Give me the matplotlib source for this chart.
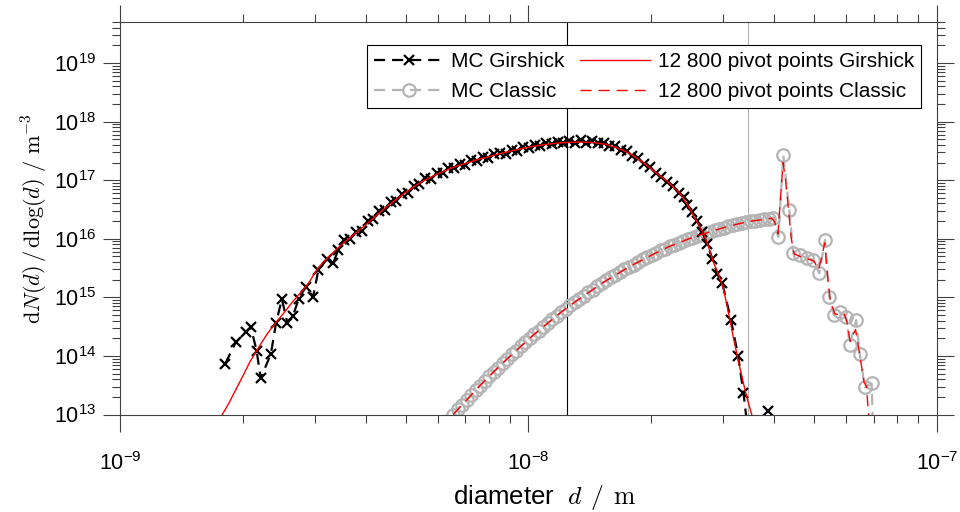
import numpy as np
import matplotlib
matplotlib.use('Agg')
import matplotlib.pyplot as plt
from matplotlib.ticker import LogLocator, NullFormatter

plt.rcParams['font.family'] = ['Liberation Sans', 'DejaVu Sans']
plt.rcParams['axes.unicode_minus'] = False
plt.rcParams['lines.scale_dashes'] = False

# diameters in nm, number densities as log10(dN/dlog(d) / m^-3)
girshick_mc_nm = [1.81, 1.92, 2.03, 2.09, 2.16, 2.21, 2.34, 2.41, 2.49, 2.57, 2.65, 2.74, 2.85, 2.97, 3.06, 3.21, 3.33, 3.42,
                  3.54, 3.66, 3.78, 3.91, 4.04, 4.17, 4.31, 4.45, 4.60, 4.75, 4.91, 5.07, 5.24, 5.41, 5.59, 5.77, 5.96, 6.16,
                  6.36, 6.57, 6.79, 7.01, 7.24, 7.48, 7.73, 7.98, 8.25, 8.52, 8.80, 9.09, 9.39, 9.70, 10.02, 10.35, 10.69,
                  11.04, 11.41, 11.78, 12.17, 12.58, 12.99, 13.42, 13.86, 14.32, 14.79, 15.28, 15.78, 16.30, 16.84, 17.40,
                  17.97, 18.57, 19.18, 19.81, 20.47, 21.14, 21.84, 22.56, 23.30, 24.0, 24.5, 25.2, 25.9, 26.6, 27.4, 28.2,
                  29.0, 29.8, 31.3, 32.6, 33.6, 34.6, 36.5, 38.6]
girshick_mc_log = [13.87, 14.23, 14.41, 14.49, 14.09, 13.62, 14.03, 14.56, 14.97, 14.56, 14.68, 14.98, 15.18, 15.01, 15.47,
                   15.65, 15.59, 15.81,
                   15.98, 15.99, 16.12, 16.14, 16.30, 16.33, 16.47, 16.49, 16.62, 16.65, 16.77, 16.78, 16.90, 16.93, 17.03,
                   17.02, 17.13, 17.12, 17.21, 17.20, 17.28, 17.26, 17.34, 17.33, 17.40, 17.38, 17.44, 17.47, 17.45, 17.52,
                   17.50, 17.56, 17.55, 17.60, 17.58, 17.63, 17.61, 17.65, 17.63, 17.67, 17.64, 17.68, 17.64, 17.67, 17.64,
                   17.63, 17.59, 17.58, 17.52, 17.49, 17.41, 17.37, 17.28, 17.23, 17.12, 17.06, 16.97, 16.90, 16.78, 16.72,
                   16.58, 16.45, 16.30, 16.12, 15.91, 15.65, 15.40, 15.25, 14.62, 14.00, 13.37, 12.6, np.nan, 13.06]

classic_mc_nm = [6.54, 6.71, 6.88, 7.06, 7.24, 7.43, 7.62, 7.81, 8.01, 8.22, 8.43, 8.65, 8.87, 9.10, 9.33, 9.57, 9.82,
                 10.07, 10.33, 10.60, 10.87, 11.15, 11.44, 11.73, 12.03, 12.34, 12.66, 12.99, 13.32, 13.66, 14.02, 14.38,
                 14.75, 15.13, 15.52, 15.92, 16.33, 16.75, 17.18, 17.62, 18.08, 18.54, 19.02, 19.51, 20.01, 20.53, 21.06,
                 21.60, 22.16, 22.73, 23.31, 23.91, 24.53, 25.16, 25.81, 26.47, 27.16, 27.86, 28.57, 29.31, 30.07, 30.84,
                 31.64, 32.45, 33.29, 34.15, 35.03, 35.93, 36.86, 37.81, 38.78,
                 39.78, 40.9, 42.06, 43.5, 44.5, 46.2, 48.0, 49.8, 51.5, 53.2, 54.5, 55.9, 57.9, 59.9, 61.2, 63.4, 64.7,
                 66.6, 69.2, 71.0]
classic_mc_log = [13.00, 13.09, 13.17, 13.25, 13.33, 13.42, 13.49, 13.58, 13.65, 13.73, 13.80, 13.88, 13.95, 14.03, 14.09,
                  14.17, 14.23, 14.30, 14.37, 14.43, 14.50, 14.56, 14.63, 14.68, 14.75, 14.80, 14.87, 14.92, 14.98, 15.03,
                  15.09, 15.13, 15.19, 15.24, 15.29, 15.34, 15.38, 15.43, 15.48, 15.52, 15.56, 15.60, 15.65, 15.68, 15.72,
                  15.76, 15.80, 15.83, 15.87, 15.90, 15.93, 15.96, 15.99, 16.02, 16.05, 16.07, 16.10, 16.12, 16.15, 16.17,
                  16.19, 16.21, 16.23, 16.25, 16.27, 16.28, 16.30, 16.31, 16.32, 16.33, 16.34,
                  16.36, 16.03, 17.43, 16.49, 15.75, 15.72, 15.67, 15.64, 15.41, 15.98, 15.01, 14.70, 14.75, 14.67, 14.19,
                  14.61, 14.04, 13.47, 13.53, 11.0]

pivot_girshick_nm = [1.78, 1.85, 1.90, 2.00, 2.08, 2.20, 2.29, 2.40, 2.51, 2.65, 2.76, 2.90, 3.05, 3.25, 3.46, 3.72, 4.00,
                     4.50, 5.00, 5.43, 6.00, 6.55, 7.50, 8.50, 9.50, 10.5, 11.5, 12.5, 13.5, 14.5, 15.5, 16.5, 17.5, 18.1,
                     19.0, 20.0, 21.0, 21.8, 22.5, 23.5, 24.5, 25.4, 26.1, 26.8, 27.6, 28.35, 29.2, 30.0, 30.6, 31.2, 31.7,
                     32.6, 33.6, 34.4, 35.2]
pivot_girshick_log = [13.00, 13.20, 13.36, 13.66, 13.90, 14.18, 14.37, 14.56, 14.72, 14.93, 15.07, 15.25, 15.50, 15.70, 15.88,
                      16.06, 16.24, 16.55, 16.79, 16.96, 17.11, 17.22, 17.35, 17.45, 17.53, 17.59, 17.625, 17.645, 17.65,
                      17.64, 17.61, 17.55, 17.47, 17.41, 17.31, 17.19, 17.07, 16.99, 16.90, 16.77, 16.58, 16.38, 16.24,
                      16.09, 15.86, 15.60, 15.39, 15.15, 14.87, 14.58, 14.33, 13.93, 13.53, 13.24, 13.00]

pivot_classic_nm = [6.54, 7.06, 7.62, 8.22, 8.87, 9.57, 10.33, 11.15, 12.03, 12.99, 14.02, 15.13, 16.33, 17.62, 19.02, 20.53,
                    22.16, 23.91, 25.81, 27.86, 30.07, 32.45, 35.03, 37.81, 39.3, 40.0, 40.8, 41.4, 42.0, 42.6, 43.3, 44.0,
                    44.7, 47.0, 50.0, 51.3, 52.3, 53.1, 54.0, 54.8, 56.2, 58.0, 59.2, 60.2, 61.3, 62.5, 63.2, 64.5, 66.3,
                    67.2, 68.0, 68.5]
pivot_classic_log = [13.00, 13.25, 13.50, 13.73, 13.95, 14.16, 14.37, 14.56, 14.75, 14.92, 15.08, 15.24, 15.38, 15.52, 15.64,
                     15.76, 15.87, 15.96, 16.05, 16.12, 16.19, 16.25, 16.30, 16.33, 16.35, 16.30, 16.08, 16.70, 17.30, 17.00,
                     16.50, 16.00, 15.74, 15.68, 15.62, 15.47, 15.70, 15.93, 15.35, 14.95, 14.72, 14.70, 14.73, 14.58, 14.25,
                     14.38, 14.45, 14.08, 13.55, 13.48, 13.00, 12.50]

mean_girshick_nm = 12.45
mean_classic_nm = 34.45

x_ticks = [1e-9, 1e-8, 1e-7]
y_ticks = [1e13, 1e14, 1e15, 1e16, 1e17, 1e18, 1e19]


def to_si(nm, logn):
    return np.array(nm) * 1e-9, 10.0 ** np.array(logn)


fig = plt.figure(figsize=(9.6, 5.12), dpi=100)
ax = fig.add_axes([0.125, 0.1904, 0.851, 0.7666])

ax.axvline(mean_girshick_nm * 1e-9, color='k', lw=0.8, zorder=1)
ax.axvline(mean_classic_nm * 1e-9, color='#b4b4b4', lw=0.8, zorder=1)

d, n = to_si(classic_mc_nm, classic_mc_log)
h_classic, = ax.plot(d, n, color='#b4b4b4', lw=1.6, dashes=(8, 5), marker='o', ms=9, mfc='none', mew=1.6)
d, n = to_si(girshick_mc_nm, girshick_mc_log)
h_girshick, = ax.plot(d, n, color='k', lw=1.6, dashes=(8, 5), marker='x', ms=7, mew=1.6)
d, n = to_si(pivot_girshick_nm, pivot_girshick_log)
h_pg, = ax.plot(d, n, color='r', lw=1.0)
d, n = to_si(pivot_classic_nm, pivot_classic_log)
h_pc, = ax.plot(d, n, color='r', lw=1.0, dashes=(8, 5))

ax.set_xscale('log')
ax.set_yscale('log')
ax.set_xlim(1e-9, 1e-7)
ax.set_ylim(1e13, 5e19)
ax.set_xticks(x_ticks)
ax.set_yticks(y_ticks)
ax.yaxis.set_minor_locator(LogLocator(base=10, subs=np.arange(2, 10), numticks=100))
ax.xaxis.set_minor_locator(LogLocator(base=10, subs=np.arange(2, 10), numticks=100))
ax.yaxis.set_minor_formatter(NullFormatter())
ax.xaxis.set_minor_formatter(NullFormatter())

ax.tick_params(which='both', direction='out', top=True, right=True, color='#404040', labelsize=15.5, width=0.8)
ax.tick_params(which='major', length=12)
ax.tick_params(which='minor', length=6)
ax.tick_params(axis='y', which='major', pad=5)
ax.tick_params(axis='x', which='major', pad=15)
for s in ax.spines.values():
    s.set_color('#404040')
    s.set_linewidth(0.8)

ax.set_ylabel(r'$\mathrm{d}N(d)\,/\,\mathrm{dlog}(d)\ /\ \mathrm{m}^{-3}$', fontsize=16, math_fontfamily='cm',
              labelpad=3)
ax.set_xlabel(r'diameter  $d\;\,/\;\,\mathrm{m}$', fontsize=18.5, math_fontfamily='cm', labelpad=2)
ax.xaxis.set_label_coords(0.52, -0.175)

leg = ax.legend([h_girshick, h_classic, h_pg, h_pc],
                ['MC Girshick', 'MC Classic', '12 800 pivot points Girshick', '12 800 pivot points Classic'],
                ncol=2, loc='upper left', bbox_to_anchor=(0.3023, 0.941), borderaxespad=0, fancybox=False,
                framealpha=1, edgecolor='k', fontsize=15, handlelength=3.36, numpoints=1, columnspacing=0.75,
                handletextpad=0.34, borderpad=0.35, labelspacing=0.5)
leg.get_frame().set_linewidth(0.8)

fig.savefig('out.png', dpi=100)
